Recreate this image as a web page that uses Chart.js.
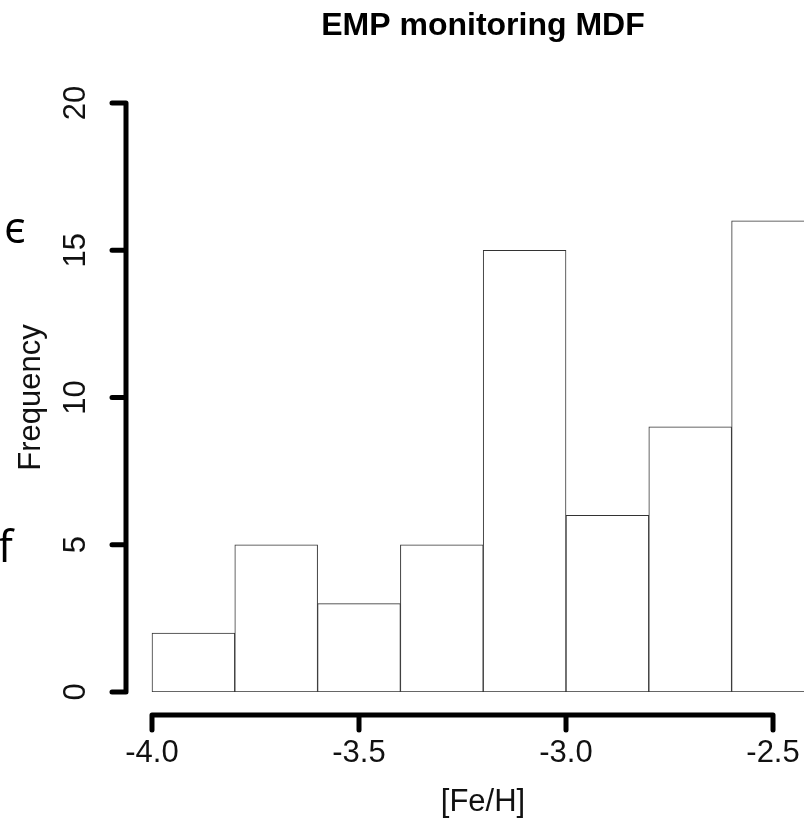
<!DOCTYPE html>
<html>
<head>
<meta charset="utf-8">
<title>EMP monitoring MDF</title>
<script src="https://cdn.jsdelivr.net/npm/chart.js@4.4.1/dist/chart.umd.min.js"></script>
<style>
  html, body { margin: 0; padding: 0; background: #fff; overflow: hidden; }
  canvas { display: block; }
</style>
</head>
<body>
<!-- the plot region runs past the right edge of the page, the last bin is cut off -->
<canvas id="mdf" width="840" height="822"></canvas>
<script>
// histogram bins ([Fe/H], width 0.2) and their counts
const binStarts = [-4.0, -3.8, -3.6, -3.4, -3.2, -3.0, -2.8, -2.6]
const binWidth = 0.2
const counts = [2, 5, 3, 5, 15, 6, 9, 16]

const xTickValues = [-4.0, -3.5, -3.0, -2.5]
const yTickValues = [0, 5, 10, 15, 20]

Chart.defaults.font.family = '"Liberation Sans", Arial, Helvetica, sans-serif'
Chart.defaults.color = '#111'

// R-style axes: detached from the plot, only as long as the tick range
const rAxes = {
  id: 'rAxes',
  afterDraw(chart) {
    const { ctx, scales: { x, y } } = chart
    ctx.save()
    ctx.strokeStyle = '#000'
    ctx.lineWidth = 5
    ctx.lineCap = 'round'

    const axisY = y.getPixelForValue(0) + 23
    const x0 = x.getPixelForValue(xTickValues[0])
    const x1 = x.getPixelForValue(xTickValues[xTickValues.length - 1])
    ctx.beginPath()
    ctx.moveTo(x0, axisY)
    ctx.lineTo(x1, axisY)
    xTickValues.forEach(v => {
      const px = x.getPixelForValue(v)
      ctx.moveTo(px, axisY)
      ctx.lineTo(px, axisY + 15)
    })
    ctx.stroke()

    const axisX = x.left
    ctx.beginPath()
    ctx.moveTo(axisX, y.getPixelForValue(yTickValues[0]))
    ctx.lineTo(axisX, y.getPixelForValue(yTickValues[yTickValues.length - 1]))
    yTickValues.forEach(v => {
      const py = y.getPixelForValue(v)
      ctx.moveTo(axisX, py)
      ctx.lineTo(axisX - 14, py)
    })
    ctx.stroke()

    // stray letters at the left margin
    ctx.fillStyle = '#000'
    ctx.font = '44px "Open Sans", sans-serif'
    ctx.textBaseline = 'alphabetic'
    ctx.fillText('є', 4, 243)
    ctx.fillText('f', -2, 562)
    ctx.restore()
  }
}

const mdfChart = new Chart(document.getElementById('mdf'), {
  type: 'bar',
  data: {
    datasets: [{
      label: 'Frequency',
      data: binStarts.map((s, i) => ({ x: s + binWidth / 2, y: counts[i] })),
      backgroundColor: '#fff',
      borderColor: '#333',
      borderWidth: 1,
      borderSkipped: false,
      barPercentage: 1,
      categoryPercentage: 1
    }]
  },
  options: {
    responsive: false,
    animation: false,
    devicePixelRatio: 1,
    layout: { padding: 0 },
    plugins: {
      legend: { display: false },
      tooltip: { enabled: false },
      title: {
        display: true,
        text: 'EMP monitoring MDF',
        fullSize: false,
        color: '#000',
        font: { size: 32, weight: 'bold' },
        padding: { top: 7, bottom: 57.6 }
      }
    },
    scales: {
      x: {
        type: 'linear',
        offset: false,
        min: -4.0628,
        max: -2.3382,
        afterBuildTicks: s => { s.ticks = xTickValues.map(v => ({ value: v })) },
        afterFit: s => { s.height = 130 },
        grid: { display: true, offset: false, drawOnChartArea: false, drawTicks: true, tickLength: 43, tickColor: 'rgba(0,0,0,0)' },
        border: { display: false },
        ticks: {
          padding: 0,
          maxRotation: 0,
          autoSkip: false,
          font: { size: 31 },
          color: '#111',
          callback: v => v.toFixed(1)
        },
        title: {
          display: true,
          text: '[Fe/H]',
          color: '#111',
          font: { size: 31 },
          padding: { top: 0, bottom: 1 }
        }
      },
      y: {
        min: 0,
        max: 20,
        afterBuildTicks: s => { s.ticks = yTickValues.map(v => ({ value: v })) },
        afterFit: s => { s.width = 126 },
        grid: { display: false },
        border: { display: false },
        ticks: {
          padding: 24,
          minRotation: 90,
          maxRotation: 90,
          crossAlign: 'center',
          font: { size: 31 },
          color: '#111'
        },
        title: {
          display: true,
          text: 'Frequency',
          color: '#111',
          font: { size: 31 },
          padding: { top: 12.4, bottom: 0 }
        }
      }
    }
  },
  plugins: [rAxes]
})
</script>
</body>
</html>
